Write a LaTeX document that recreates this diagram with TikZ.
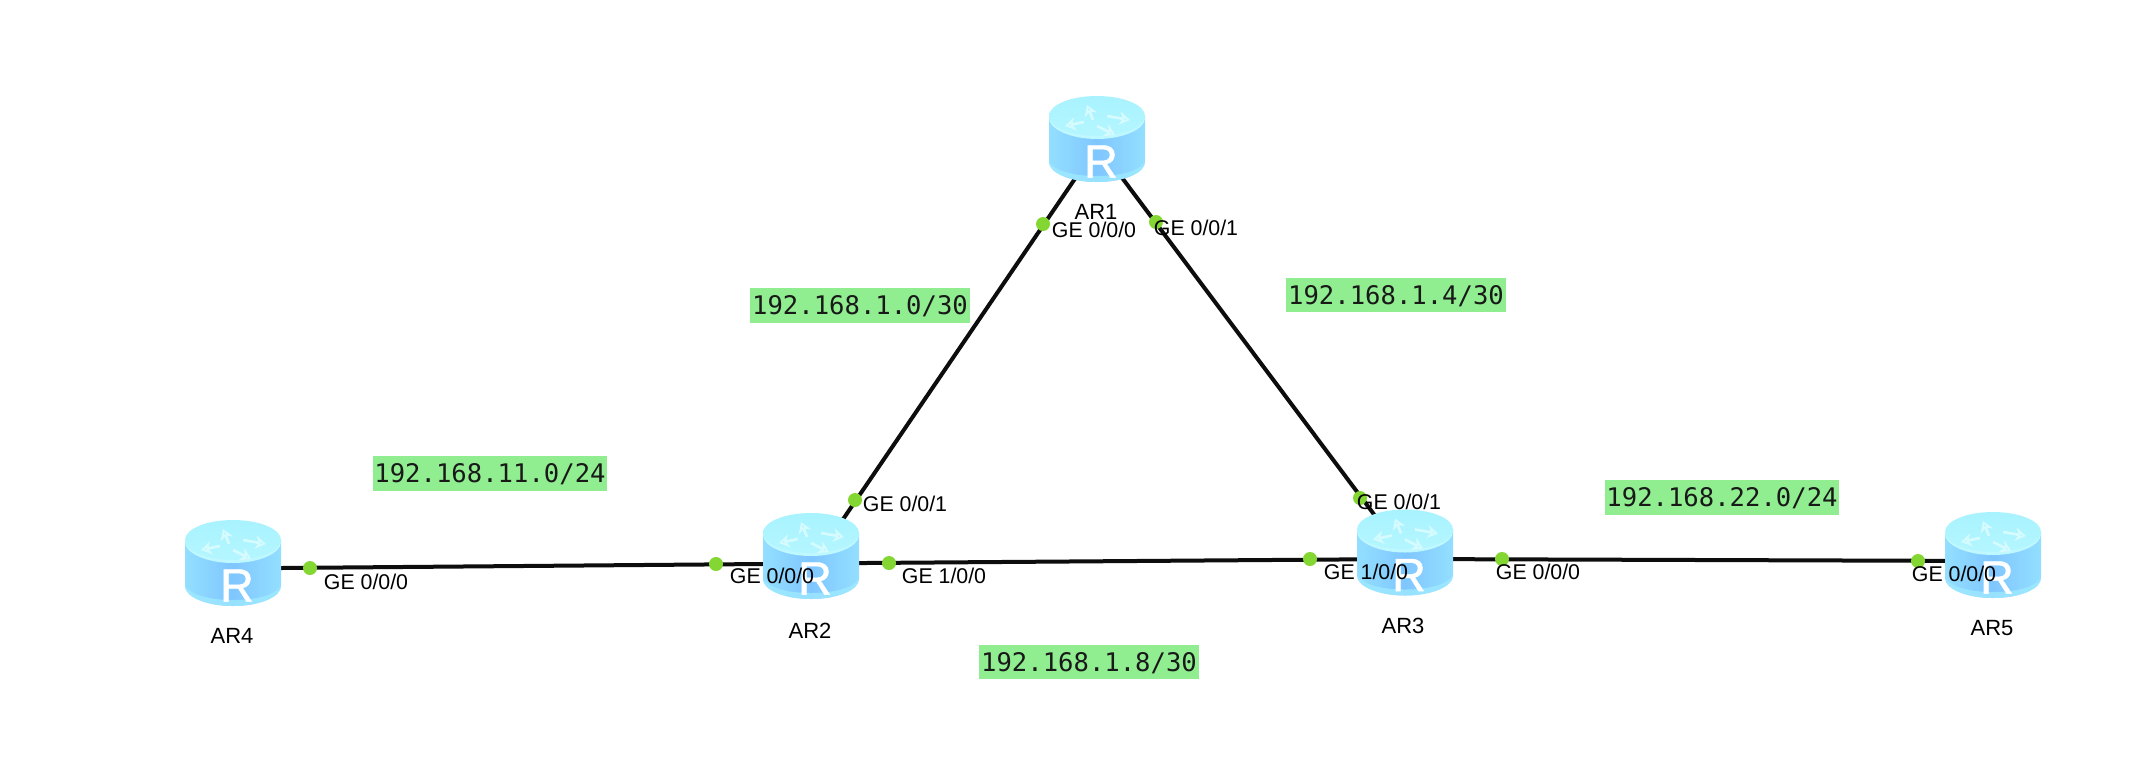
\documentclass[tikz,border=0pt]{standalone}
\usepackage{fontspec}
\setmainfont{Liberation Sans}
\newfontfamily\netmono{DejaVu Sans Mono}
\newfontfamily\rglyph[FakeBold=1.2]{Liberation Sans}
\usetikzlibrary{arrows.meta}
\definecolor{netgreen}{HTML}{90EE90}
\definecolor{dotgreen}{HTML}{84D732}
\definecolor{rtop}{HTML}{A8F3FF}
\definecolor{rtoplow}{HTML}{B4F6FF}
\definecolor{rrim}{HTML}{C0F8FF}
\definecolor{redge}{HTML}{93DFFF}
\definecolor{rmid}{HTML}{7FC6FF}
\definecolor{rlow}{HTML}{A0EBFF}
\definecolor{rarrow}{HTML}{D6FBFF}
\tikzset{
  routerbox/.style={minimum width=72pt,minimum height=64.5pt,inner sep=0pt,outer sep=0pt},
  linkline/.style={draw=black!95,line width=3pt},
  port/.style={circle,fill=dotgreen,inner sep=0pt,minimum size=10.5pt},
  portlabel/.style={inner sep=0pt,font=\fontsize{16}{18}\selectfont,text=black,text height=11.6pt,text depth=0pt},
  routername/.style={inner sep=0pt,font=\fontsize{16.5}{18}\selectfont,text=black,text height=11.9pt,text depth=0pt},
  netbox/.style={fill=netgreen,inner sep=0pt,font=\fontsize{19.2}{22}\selectfont\netmono,text=black!90,text height=14pt,text depth=0pt,minimum height=26.2pt},
  routerglyph/.style={inner sep=0pt,text=white,font=\fontsize{35}{36}\selectfont\rglyph,text height=25pt,text depth=0pt},
  routerarrow/.style={draw=rarrow,line width=2pt,-{Stealth[length=8pt,width=10pt,open,line width=1.8pt]}}
}
% art for a router; #1 name, #2,#3 top-left corner in pixels
\newcommand{\routerart}[3]{%
  \begin{scope}[shift={(#2,#3)}]
    \path[left color=redge,right color=redge,middle color=rmid]
      (0,20) -- (0,66) .. controls (0,77) and (21.5,86) .. (48,86)
      .. controls (74.5,86) and (96,77) .. (96,66) -- (96,20) -- cycle;
    \path[fill=rlow,opacity=.75]
      (0,66) .. controls (0,77) and (21.5,86) .. (48,86)
      .. controls (74.5,86) and (96,77) .. (96,66)
      .. controls (90,75) and (72,80) .. (48,80)
      .. controls (24,80) and (6,75) .. (0,66) -- cycle;
    \path[fill=rrim]
      (0,22) .. controls (0,33) and (21.5,43) .. (48,43)
      .. controls (74.5,43) and (96,33) .. (96,22) -- (96,20) -- (0,20) -- cycle;
    \path[top color=rtop,bottom color=rtoplow]
      (0,20) .. controls (0,9) and (21.5,0) .. (48,0)
      .. controls (74.5,0) and (96,9) .. (96,20)
      .. controls (96,31) and (74.5,40) .. (48,40)
      .. controls (21.5,40) and (0,31) .. (0,20) -- cycle;
    \draw[routerarrow] (44,24) -- (38,9);
    \draw[routerarrow] (58,20) -- (81,24);
    \draw[routerarrow] (48,30) -- (66,39);
    \draw[routerarrow] (35,26) -- (16,30);
    \node[routerglyph] (#1R) at (52,65) {R};
  \end{scope}}
\begin{document}
\begin{tikzpicture}[x=0.75pt,y=-0.75pt]
\useasboundingbox (0,0) rectangle (2151,776);
\fill[white] (0,0) rectangle (2151,776);
% router nodes
\node[routerbox] (AR1) at (1097,139) {};
\node[routerbox] (AR2) at (811,556) {};
\node[routerbox] (AR3) at (1405,552.5) {};
\node[routerbox] (AR4) at (233,563) {};
\node[routerbox] (AR5) at (1993,555) {};
% links
\draw[linkline] ([shift={(5,0)}]AR1.center) -- ([shift={(7,0)}]AR2.center);
\draw[linkline] ([shift={(-4,0)}]AR1.center) -- ([shift={(-2.5,0)}]AR3.center);
\draw[linkline] ([shift={(0,5.4)}]AR4.center) -- ([shift={(0,7.6)}]AR2.center);
\draw[linkline] ([shift={(0,7.4)}]AR2.center) -- ([shift={(0,6.5)}]AR3.center);
\draw[linkline] ([shift={(0,6.5)}]AR3.center) -- ([shift={(0,6)}]AR5.center);
% router art
\routerart{AR1}{1049}{96}
\routerart{AR2}{763}{513}
\routerart{AR3}{1357}{509.5}
\routerart{AR4}{185}{520}
\routerart{AR5}{1945}{512}
% ports
\node[port] (p1a) at (1043,224) {};
\node[port] (p1b) at (1156,222) {};
\node[port] (p2a) at (855,500) {};
\node[port] (p2b) at (716,564) {};
\node[port] (p2c) at (889,563) {};
\node[port] (p3a) at (1360,498) {};
\node[port] (p3b) at (1310,559) {};
\node[port] (p3c) at (1502,559) {};
\node[port] (p5a) at (1918,561) {};
\node[port] (p4a) at (310,568) {};
% router names
\node[routername] (n1) at (1096,212) {AR1};
\node[routername] (n2) at (810,631) {AR2};
\node[routername] (n3) at (1403,626) {AR3};
\node[routername] (n4) at (232,636) {AR4};
\node[routername] (n5) at (1992,628) {AR5};
% port labels
\node[portlabel] (l1a) at (1094,230) {GE 0/0/0};
\node[portlabel] (l1b) at (1196,228) {GE 0/0/1};
\node[portlabel] (l2a) at (905,504) {GE 0/0/1};
\node[portlabel] (l2b) at (772,576) {GE 0/0/0};
\node[portlabel] (l2c) at (944,576) {GE 1/0/0};
\node[portlabel] (l3a) at (1399,502) {GE 0/0/1};
\node[portlabel] (l3b) at (1366,572) {GE 1/0/0};
\node[portlabel] (l3c) at (1538,572) {GE 0/0/0};
\node[portlabel] (l5a) at (1954,574) {GE 0/0/0};
\node[portlabel] (l4a) at (366,582) {GE 0/0/0};
% network labels
\node[netbox,minimum width=165.5pt] (net1) at (860,305.5) {192.168.1.0/30};
\node[netbox,minimum width=165.5pt] (net2) at (1396,295) {192.168.1.4/30};
\node[netbox,minimum width=165.5pt] (net3) at (1089,662) {192.168.1.8/30};
\node[netbox,minimum width=176pt] (net4) at (490,473.5) {192.168.11.0/24};
\node[netbox,minimum width=176pt] (net5) at (1722,497.5) {192.168.22.0/24};
\end{tikzpicture}
\end{document}
